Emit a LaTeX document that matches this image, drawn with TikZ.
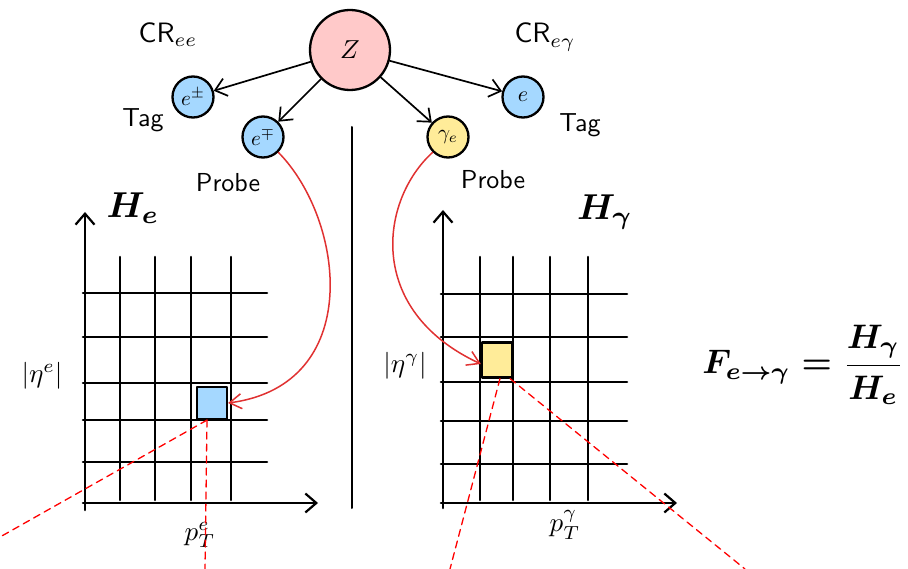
\documentclass[tikz,border=0pt]{standalone}
\usepackage{graphicx}
\usepackage{amsmath}
\usetikzlibrary{arrows.meta}
\definecolor{zpink}{HTML}{FFC9C9}
\definecolor{eblue}{HTML}{A5D8FF}
\definecolor{gyellow}{HTML}{FFEC99}
\definecolor{probered}{HTML}{E03131}
\begin{document}
\begin{tikzpicture}[x=1pt, y=-1pt, line cap=round, line join=round,
    ball/.style={circle, draw, line width=2.3pt, inner sep=0pt, minimum size=41pt},
    hop/.style={line width=1.7pt, -{Straight Barb[length=11pt, width=18pt, line width=1.7pt]}},
    gridline/.style={line width=2.6pt},
    axis/.style={line width=2.6pt, -{Straight Barb[length=11pt, width=19pt, line width=2.2pt]}},
    bin/.style={draw, line width=2.2pt, inner sep=0pt, minimum width=30pt},
    probe/.style={probered, line width=1.5pt, -{Straight Barb[length=12pt, width=15pt, line width=1.5pt]}},
    proj/.style={red, line width=1.3pt, dash pattern=on 7pt off 5pt},
    word/.style={font=\sffamily},
    heavy/.style={font=\boldmath}]
  \useasboundingbox (0,0) rectangle (908,569);

  \node[ball, fill=zpink, minimum size=80pt] (Z) at (350,50) {\scalebox{2.6}{$Z$}};
  \node[ball, fill=eblue] (eTag) at (193,97) {\scalebox{2.1}{$e^{\pm}$}};
  \node[ball, fill=eblue] (eProbe) at (263,137) {\scalebox{2.1}{$e^{\mp}$}};
  \node[ball, fill=gyellow] (gProbe) at (448,137) {\scalebox{2.1}{$\gamma_e$}};
  \node[ball, fill=eblue] (gTag) at (523,97) {\scalebox{2.2}{$e$}};
  \draw[hop] (Z) -- (eTag);
  \draw[hop] (Z) -- (eProbe);
  \draw[hop] (Z) -- (gProbe);
  \draw[hop] (Z) -- (gTag);

  \node[word, scale=2.8] (crEE) at (168,35) {CR$_{ee}$};
  \node[word, scale=2.8] (crEG) at (545,37) {CR$_{e\gamma}$};
  \node[word, scale=2.6] (tagE) at (143,120) {Tag};
  \node[word, scale=2.6] (probeE) at (228,183) {Probe};
  \node[word, scale=2.6] (tagG) at (580,125) {Tag};
  \node[word, scale=2.6] (probeG) at (493,180) {Probe};

  \draw[line width=2pt] (352,127) -- (352,508);

  % electron histogram
  \foreach \x in {120,155,191,231} \draw[gridline] (\x,257) -- (\x,500);
  \foreach \y in {293,337,383,420,462} \draw[gridline] (83,\y) -- (267,\y);
  \draw[axis] (85,510) -- (85,212);
  \draw[axis] (83,503) -- (318,503);
  \node[bin, fill=eblue, minimum height=32pt] (binE) at (212,403) {};
  \node[heavy, scale=3.6] (hE) at (133,208) {$H_e$};
  \node[scale=2.7] (etaE) at (42,376) {$|\eta^e|$};
  \node[scale=2.7] (ptE) at (200,535) {$p_T^e$};
  \coordinate (eFarL) at (0,537);
  \coordinate (eFarD) at (205,569);
  \draw[proj] ([xshift=-5pt]binE.south) -- (eFarL);
  \draw[proj] ([xshift=-5pt]binE.south) -- (eFarD);

  % photon histogram
  \foreach \x in {480,513,550,588} \draw[gridline] (\x,257) -- (\x,500);
  \foreach \y in {294,337,382,421,464} \draw[gridline] (441,\y) -- (627,\y);
  \draw[axis] (443,508) -- (443,210);
  \draw[axis] (441,503) -- (677,503);
  \node[bin, fill=gyellow, minimum height=35pt] (binG) at (497,360) {};
  \node[heavy, scale=3.6] (hG) at (605,212) {$H_\gamma$};
  \node[scale=2.7] (etaG) at (405,366) {$|\eta^\gamma|$};
  \node[scale=2.7] (ptG) at (565,525) {$p_T^\gamma$};
  \coordinate (gFarD) at (450,569);
  \coordinate (gFarR) at (745,569);
  \draw[proj] ([xshift=3pt]binG.south) -- (gFarD);
  \draw[proj] ([xshift=13pt]binG.south) -- (gFarR);

  \draw[probe] (eProbe.south east) .. controls (345,220) and (365,385) .. (binE.east);
  \draw[probe] (gProbe.south west) .. controls (380,200) and (365,310) .. ([yshift=-4pt]binG.west);

  \node[heavy, scale=3.4] (ratio) at (803,365)
    {$F_{e\to\gamma} = \dfrac{H_\gamma}{H_e}$};
\end{tikzpicture}
\end{document}
